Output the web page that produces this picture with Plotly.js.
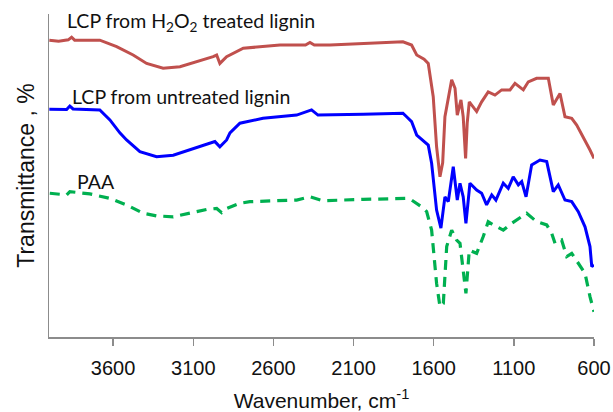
<!DOCTYPE html>
<html>
<head>
<meta charset="utf-8">
<script src="https://cdn.plot.ly/plotly-3.0.1.min.js"></script>
<style>html,body{margin:0;padding:0;background:#fff;}#chart{width:613px;height:412px;}</style>
</head>
<body>
<div id="chart"></div>
<script>
// Wavenumbers (cm-1) and transmittance (arbitrary %, offset spectra)
const h2o2Wn = [3998, 3940, 3880, 3859, 3840, 3683, 3578, 3475, 3391, 3288, 3183, 3079, 2976, 2954, 2934, 2892, 2809, 2788, 2559, 2400, 2372, 2345, 2247, 2040, 1792, 1738, 1706, 1660, 1634, 1603, 1582, 1561, 1544, 1530, 1509, 1488, 1467, 1453, 1430, 1416, 1401, 1391, 1378, 1332, 1301, 1260, 1218, 1176, 1124, 1093, 1041, 1010, 958, 885, 854, 812, 781, 739, 708, 667, 625, 600];
const h2o2T = [91.9, 91.6, 92.0, 92.8, 91.9, 91.9, 89.9, 87.3, 84.7, 83.2, 83.7, 85.2, 86.8, 87.3, 84.7, 86.8, 88.9, 89.4, 90.4, 90.4, 91.2, 90.4, 90.4, 90.9, 91.4, 90.4, 87.3, 86.0, 84.7, 74.4, 58.9, 49.6, 53.9, 68.2, 74.4, 79.6, 77.0, 68.7, 73.4, 68.2, 55.3, 66.2, 72.8, 69.8, 72.8, 75.9, 74.9, 76.5, 76.5, 78.5, 76.5, 79.0, 80.1, 80.1, 71.8, 75.4, 68.2, 67.7, 65.6, 62.0, 57.9, 55.3];

const untreatedWn = [3998, 3890, 3870, 3850, 3683, 3620, 3558, 3516, 3433, 3329, 3225, 3100, 2996, 2965, 2934, 2892, 2871, 2809, 2665, 2455, 2362, 2322, 2040, 1831, 1792, 1769, 1738, 1706, 1634, 1613, 1582, 1555, 1530, 1509, 1478, 1453, 1436, 1416, 1399, 1374, 1332, 1301, 1270, 1238, 1212, 1166, 1135, 1104, 1072, 1051, 1024, 989, 937, 895, 854, 823, 781, 739, 698, 656, 625, 614, 600];
const untreatedT = [70.5, 70.4, 71.5, 70.6, 70.3, 67.2, 63.2, 61.0, 57.4, 55.8, 56.3, 58.4, 60.0, 60.5, 58.9, 61.0, 63.2, 66.2, 67.7, 68.7, 70.3, 68.7, 69.0, 69.3, 69.3, 68.2, 66.7, 62.5, 59.4, 53.8, 39.3, 33.7, 43.4, 41.9, 52.7, 42.4, 47.6, 43.4, 35.2, 47.6, 45.5, 44.5, 40.9, 44.0, 42.4, 47.6, 46.0, 49.6, 47.1, 48.1, 43.4, 53.3, 54.8, 54.3, 45.0, 47.1, 42.4, 41.9, 38.8, 34.1, 28.0, 21.8, 22.3];

const paaWn = [3995, 3890, 3870, 3745, 3620, 3516, 3412, 3329, 3225, 3121, 3017, 2954, 2923, 2892, 2809, 2747, 2455, 2372, 2291, 2040, 1831, 1767, 1738, 1675, 1644, 1613, 1582, 1561, 1540, 1519, 1488, 1457, 1436, 1416, 1399, 1378, 1332, 1291, 1260, 1228, 1166, 1114, 1082, 1020, 958, 895, 864, 843, 802, 770, 739, 687, 656, 625, 600];
const paaT = [44.5, 44.0, 45.0, 44.3, 42.9, 40.9, 38.3, 37.5, 37.2, 38.3, 39.5, 39.8, 38.5, 39.8, 41.4, 41.9, 42.4, 43.4, 42.2, 42.6, 42.9, 42.9, 42.4, 40.3, 38.8, 33.1, 16.6, 9.4, 10.4, 28.0, 33.1, 30.0, 29.0, 20.7, 13.5, 26.9, 25.9, 31.1, 35.7, 34.7, 33.1, 35.2, 36.2, 38.3, 35.7, 34.7, 32.1, 29.0, 30.0, 24.9, 25.9, 21.8, 19.7, 12.5, 7.8];

const seriesNames = ["LCP from H<sub>2</sub>O<sub>2</sub> treated lignin", "LCP from untreated lignin", "PAA"];
const xTicks = [3600, 3100, 2600, 2100, 1600, 1100, 600];

const traces = [
  {x: h2o2Wn, y: h2o2T, name: seriesNames[0], mode: "lines", line: {color: "#C0504D", width: 3}},
  {x: untreatedWn, y: untreatedT, name: seriesNames[1], mode: "lines", line: {color: "#0000FF", width: 3}},
  {x: paaWn, y: paaT, name: seriesNames[2], mode: "lines", line: {color: "#00B050", width: 3.2, dash: "10px,7px"}}
];

const labelFont = {family: "Lato, 'Open Sans', sans-serif", size: 19.5, color: "#111"};
const layout = {
  width: 613, height: 412,
  margin: {l: 49, r: 19, t: 14, b: 75},
  paper_bgcolor: "#fff", plot_bgcolor: "#fff",
  showlegend: false,
  xaxis: {
    range: [4000, 600], tickvals: xTicks, ticktext: xTicks.map(String),
    showgrid: false, zeroline: false, showline: true, linecolor: "#8c8c8c", linewidth: 1.5,
    ticks: "outside", ticklen: 7, tickcolor: "#8c8c8c", tickwidth: 1.5,
    ticklabelstandoff: 5,
    tickfont: {family: "Liberation Sans, Arial, sans-serif", size: 20, color: "#111"},
    title: {text: "Wavenumber, cm<sup>-1</sup>", font: {family: "Liberation Sans, Arial, sans-serif", size: 21, color: "#111"}, standoff: 20}
  },
  yaxis: {
    range: [0, 100], showticklabels: false, ticks: "",
    showgrid: false, zeroline: false, showline: true, linecolor: "#8c8c8c", linewidth: 1.5,
    title: {text: "Transmittance , %", font: {family: "Liberation Sans, Arial, sans-serif", size: 23, color: "#111"}, standoff: 6}
  },
  annotations: [
    {xref: "paper", yref: "paper", x: 0.029, y: 0.975, xanchor: "left", yanchor: "middle", showarrow: false, text: seriesNames[0], font: labelFont},
    {xref: "paper", yref: "paper", x: 0.039, y: 0.745, xanchor: "left", yanchor: "middle", showarrow: false, text: seriesNames[1], font: labelFont},
    {xref: "paper", yref: "paper", x: 0.048, y: 0.480, xanchor: "left", yanchor: "middle", showarrow: false, text: seriesNames[2], font: labelFont}
  ]
};

Plotly.newPlot("chart", traces, layout, {displayModeBar: false, staticPlot: true});
</script>
</body>
</html>
